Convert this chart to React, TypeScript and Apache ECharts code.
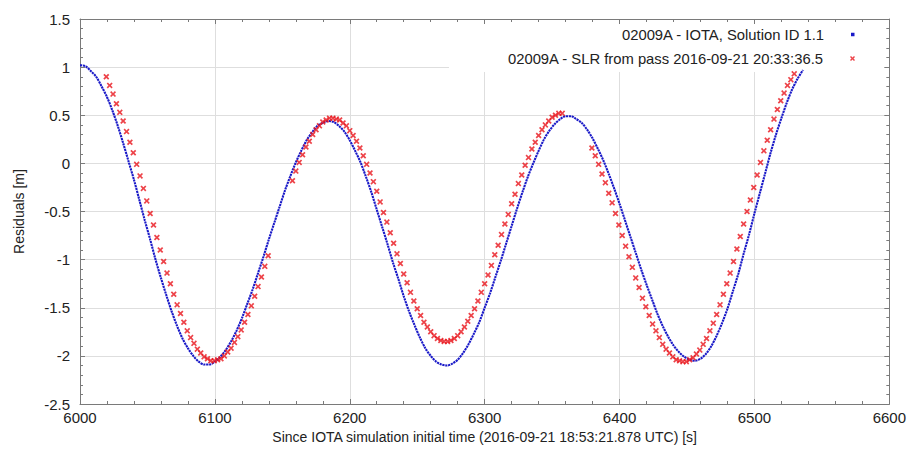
import React, { useEffect, useRef } from "react";
import * as echarts from "echarts";

const blueName = "02009A - IOTA, Solution ID 1.1";
const redName = "02009A - SLR from pass 2016-09-21 20:33:36.5";
const xTitle = "Since IOTA simulation initial time (2016-09-21 18:53:21.878 UTC) [s]";
const yTitle = "Residuals [m]";

const xMin = 6000;
const xMax = 6600;
const xInterval = 100;
const yMin = -2.5;
const yMax = 1.5;
const yInterval = 0.5;

// IOTA solution residuals, sampled every 4 s from 6000 s
const blueStart = 6000;
const blueStep = 4;
const blueValues = [
  1.02, 1.01, 0.96, 0.9, 0.8, 0.69, 0.55, 0.39, 0.21, 0.02, -0.17, -0.38, -0.59, -0.79, -1.0, -1.19, -1.37, -1.54, -1.69, -1.82, -1.92, -2.0, -2.06, -2.09,
  -2.09, -2.06, -2.01, -1.94, -1.85, -1.74, -1.61, -1.46, -1.31, -1.14, -0.97, -0.79, -0.62, -0.45, -0.28, -0.13, 0.01, 0.13, 0.24, 0.32, 0.39, 0.42, 0.44,
  0.43, 0.39, 0.33, 0.24, 0.13, 0.01, -0.14, -0.3, -0.48, -0.66, -0.84, -1.03, -1.2, -1.38, -1.54, -1.68, -1.81, -1.92, -2.0, -2.06, -2.09,
  -2.1, -2.08, -2.04, -1.97, -1.88, -1.77, -1.65, -1.5, -1.35, -1.18, -1.01, -0.83, -0.65, -0.47, -0.3, -0.14, 0.0, 0.13, 0.25, 0.34, 0.41, 0.46, 0.49,
  0.49, 0.46, 0.42, 0.35, 0.26, 0.15, 0.03, -0.11, -0.26, -0.42, -0.59, -0.76, -0.93, -1.1, -1.26, -1.41, -1.56, -1.69, -1.8, -1.89, -1.96, -2.01, -2.04,
  -2.05, -2.03, -1.98, -1.9, -1.79, -1.66, -1.51, -1.33, -1.15, -0.94, -0.74, -0.52, -0.31, -0.1, 0.11, 0.3, 0.47, 0.63, 0.77, 0.88, 0.97,
];

// SLR residuals, sampled every 2.5 s, in three tracked pieces
const redStep = 2.5;
const redStartA = 6019.5;
const redValuesA = [
  0.9, 0.81, 0.72, 0.62, 0.53, 0.44, 0.33, 0.22, 0.11, -0.01, -0.13, -0.26, -0.39, -0.52, -0.64, -0.77, -0.9, -1.02, -1.14, -1.25,
  -1.36, -1.47, -1.56, -1.65, -1.74, -1.81, -1.87, -1.93, -1.97, -2.01, -2.03, -2.05, -2.05, -2.04, -2.03, -2.0, -1.96, -1.92, -1.86, -1.8,
  -1.73, -1.65, -1.57, -1.48, -1.38, -1.28, -1.18, -1.07, -0.96,
];
const redStartB = 6157.5;
const redValuesB = [
  -0.18, -0.08, 0.01, 0.09, 0.17, 0.23, 0.3, 0.35, 0.39, 0.43, 0.45, 0.47, 0.47,
  0.46, 0.45, 0.42, 0.39, 0.34, 0.29, 0.23, 0.16, 0.08, -0.01, -0.1, -0.19, -0.29, -0.4, -0.51, -0.61, -0.72, -0.83, -0.94, -1.04, -1.15,
  -1.24, -1.34, -1.43, -1.51, -1.58, -1.65, -1.7, -1.75, -1.79, -1.82, -1.84, -1.85,
  -1.85, -1.84, -1.82, -1.79, -1.75, -1.7, -1.64, -1.58, -1.51, -1.43, -1.34, -1.25, -1.16, -1.06, -0.95, -0.85, -0.74, -0.63, -0.53, -0.42,
  -0.32, -0.21, -0.12, -0.02, 0.06, 0.15, 0.22, 0.29, 0.35, 0.4, 0.44, 0.48, 0.5, 0.52, 0.52,
];
const redStartC = 6379.5;
const redValuesC = [
  0.16, 0.08, -0.01, -0.11, -0.2, -0.31, -0.41, -0.52, -0.64, -0.75, -0.86, -0.97, -1.08, -1.19, -1.29, -1.4, -1.49, -1.58, -1.67, -1.74,
  -1.81, -1.88, -1.93, -1.97, -2.01, -2.04, -2.05, -2.06,
  -2.06, -2.04, -2.02, -1.98, -1.94, -1.88, -1.82, -1.74, -1.66, -1.57, -1.47, -1.36, -1.25, -1.14, -1.02, -0.89, -0.76, -0.63, -0.5, -0.38,
  -0.25, -0.12, 0.01, 0.13, 0.24, 0.35, 0.46, 0.56, 0.65, 0.73, 0.81, 0.87, 0.93,
];

const blueColor = "#1a1ac8";
const redColor = "#e8141c";
const frameColor = "#7a7a7a";
const gridColor = "#dedede";
const textColor = "#222";
const fontFamily = '"Liberation Sans", Arial, Helvetica, sans-serif';
const crossPath =
  "path://M0,2 L2,0 L5,3 L8,0 L10,2 L7,5 L10,8 L8,10 L5,7 L2,10 L0,8 L3,5 Z";

function toPoints(start: number, step: number, values: number[]) {
  return values.map((v, i) => [start + i * step, v]);
}

export default function App() {
  const ref = useRef<HTMLDivElement>(null);

  useEffect(() => {
    if (!ref.current) return;
    const chart = echarts.init(ref.current, undefined, { renderer: "svg" });

    const blueData = toPoints(blueStart, blueStep, blueValues);
    const redData = [
      ...toPoints(redStartA, redStep, redValuesA),
      ...toPoints(redStartB, redStep, redValuesB),
      ...toPoints(redStartC, redStep, redValuesC),
    ];

    const frameAxis = (extra: any) => ({
      type: "value",
      axisLine: { show: true, onZero: false, lineStyle: { color: frameColor, width: 1 } },
      axisTick: { show: true, inside: true, length: 5, lineStyle: { color: frameColor } },
      minorTick: { show: true, splitNumber: 5, length: 3, lineStyle: { color: frameColor } },
      ...extra,
    });

    const legendText = {
      fontSize: 14.8,
      color: textColor,
      fontFamily,
      padding: [0, 22, 0, 0],
    };

    const option: any = {
      animation: false,
      backgroundColor: "#ffffff",
      textStyle: { fontFamily },
      grid: { left: 80, right: 18, top: 19, bottom: 48 },
      xAxis: [
        frameAxis({
          min: xMin,
          max: xMax,
          interval: xInterval,
          position: "bottom",
          splitLine: { show: true, lineStyle: { color: gridColor, width: 1 } },
          axisLabel: {
            fontSize: 15,
            color: textColor,
            margin: 6,
            fontFamily,
            formatter: (v: number) => String(v),
          },
          name: xTitle,
          nameLocation: "middle",
          nameGap: 26,
          nameTextStyle: { fontSize: 14, color: textColor, fontFamily },
        }),
        frameAxis({
          min: xMin,
          max: xMax,
          interval: xInterval,
          position: "top",
          splitLine: { show: false },
          axisLabel: { show: false },
          z: 5,
        }),
      ],
      yAxis: [
        frameAxis({
          min: yMin,
          max: yMax,
          interval: yInterval,
          position: "left",
          splitLine: { show: true, lineStyle: { color: gridColor, width: 1 } },
          axisLabel: {
            fontSize: 15,
            color: textColor,
            margin: 10,
            fontFamily,
            formatter: (v: number) => String(v),
          },
          name: yTitle,
          nameLocation: "middle",
          nameGap: 54,
          nameTextStyle: { fontSize: 14, color: textColor, fontFamily },
        }),
        frameAxis({
          min: yMin,
          max: yMax,
          interval: yInterval,
          position: "right",
          splitLine: { show: false },
          axisLabel: { show: false },
          z: 5,
        }),
      ],
      legend: [
        {
          data: [{ name: blueName, icon: "rect" }],
          orient: "vertical",
          align: "right",
          right: 54.5,
          top: 27,
          padding: 0,
          itemWidth: 3.5,
          itemHeight: 3.5,
          selectedMode: false,
          textStyle: legendText,
        },
        {
          data: [{ name: redName, icon: crossPath }],
          orient: "vertical",
          align: "right",
          right: 54,
          top: 51,
          padding: 0,
          itemWidth: 5,
          itemHeight: 5,
          selectedMode: false,
          textStyle: legendText,
        },
      ],
      graphic: [
        {
          type: "rect",
          silent: true,
          z: 1,
          shape: { x: 449, y: 20, width: 441, height: 52 },
          style: { fill: "#ffffff" },
        },
      ],
      series: [
        {
          type: "line",
          name: blueName,
          data: blueData,
          xAxisIndex: 0,
          yAxisIndex: 0,
          showSymbol: false,
          smooth: 0.3,
          lineStyle: { color: blueColor, width: 2.1, type: [2.2, 0.7] },
          itemStyle: { color: blueColor },
          z: 2,
        },
        {
          type: "scatter",
          name: redName,
          data: redData,
          xAxisIndex: 0,
          yAxisIndex: 0,
          symbol: crossPath,
          symbolSize: 6,
          itemStyle: { color: redColor },
          z: 3,
        },
      ],
    };

    chart.setOption(option);
    return () => chart.dispose();
  }, []);

  return (
    <div
      ref={ref}
      style={{ position: "fixed", left: 0, top: 0, width: 909, height: 452, background: "#fff" }}
    />
  );
}
